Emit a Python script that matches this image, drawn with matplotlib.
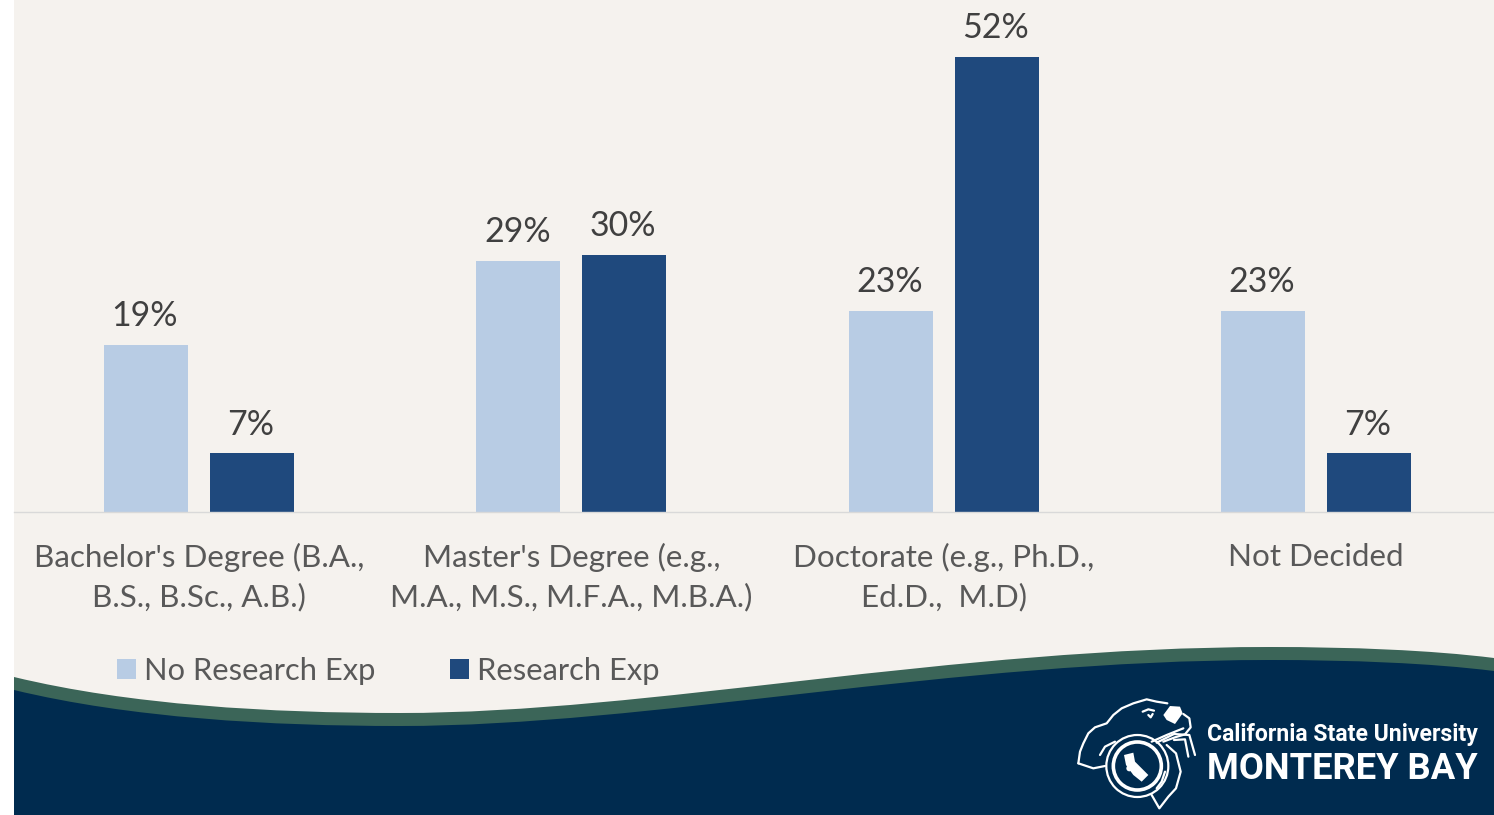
"""Degree plans by research experience, with the CSUMB footer wave and logo."""
import matplotlib
matplotlib.use("Agg")
import matplotlib.pyplot as plt
from matplotlib.patches import Circle, PathPatch, Patch, Polygon, Rectangle
from matplotlib.path import Path
import numpy as np

categories = ["Bachelor's Degree (B.A.,\nB.S., B.Sc., A.B.)",
              "Master's Degree (e.g.,\nM.A., M.S., M.F.A., M.B.A.)",
              "Doctorate (e.g., Ph.D.,\nEd.D.,  M.D)",
              "Not Decided"]
series_names = ["No Research Exp", "Research Exp"]
no_research = [19.1, 28.7, 23.0, 23.0]
research = [6.7, 29.4, 52.0, 6.7]
no_research_labels = ["19%", "29%", "23%", "23%"]
research_labels = ["7%", "30%", "52%", "7%"]

W, H = 1494, 815
BG = "#F5F2EE"
LIGHT = "#B8CCE4"
DARK = "#1F497D"
NAVY = "#002B4F"
GREEN = "#3B6558"
FONT = "Lato"

# footer wave, figure pixels (top edge of the green band, then offset down)
WAVE_TOP = [(14, 677), (130, 705), (270, 713), (400, 713),
            (650, 713), (950, 647), (1270, 647),
            (1350, 647), (1430, 650), (1494, 658)]
BAND = 13

OTTER_LINES = [
    [(85, 370), (90, 335), (100, 310), (115, 280), (135, 262), (170, 250), (190, 225), (215, 205),
     (250, 190), (290, 178), (320, 185), (352, 190)],
    [(85, 370), (130, 385), (165, 378)],
    [(400, 222), (418, 235), (422, 262), (405, 283), (375, 292), (340, 305)],
    [(350, 315), (378, 340), (392, 395), (378, 445), (355, 470), (328, 505), (305, 465)],
    [(150, 345), (165, 320), (195, 305)],
    [(278, 215), (295, 208), (312, 212)],
    [(295, 225), (302, 232), (308, 222)],
    [(305, 305), (350, 285), (400, 265)],
    [(320, 308), (372, 282), (418, 285), (435, 345)],
    [(372, 300), (405, 298), (415, 350)],
    [(345, 395), (335, 425), (320, 445)],
]
OTTER_NOSE = [(340, 225), (360, 198), (390, 200), (398, 220), (375, 252), (350, 240)]
STATE_SHAPE = [(222, 345), (250, 338), (255, 365), (295, 405), (275, 425), (250, 405), (228, 375)]
STATE_ISLAND = (238, 385)


def logo_px(pts):
    return [(1050 + x / 3, 640 + y / 3) for x, y in pts]


def draw_backdrop(bg):
    bg.add_patch(Rectangle((14, 0), W - 14, H, color=BG, lw=0))
    codes = [Path.MOVETO] + [Path.CURVE4] * (len(WAVE_TOP) - 1)
    for shift, color in ((0, GREEN), (BAND, NAVY)):
        verts = [(x, y + shift) for x, y in WAVE_TOP] + [(W, H), (14, H), (14, WAVE_TOP[0][1] + shift)]
        c = codes + [Path.LINETO, Path.LINETO, Path.CLOSEPOLY]
        bg.add_patch(PathPatch(Path(verts, c), fc=color, ec="none"))


def draw_logo(bg):
    for line in OTTER_LINES:
        xs, ys = zip(*logo_px(line))
        bg.plot(xs, ys, color="white", lw=1.6, solid_capstyle="round")
    bg.add_patch(Polygon(logo_px(OTTER_NOSE), fc="white", ec="none"))
    bg.add_patch(Polygon(logo_px(STATE_SHAPE), fc="white", ec="none"))
    bg.add_patch(Circle(logo_px([STATE_ISLAND])[0], 3, fc="white", ec="none"))
    cx, cy = logo_px([(262, 378)])[0]
    bg.add_patch(Circle((cx, cy), 31, fc="none", ec="white", lw=1.6))
    bg.add_patch(Circle((cx, cy), 24, fc="none", ec="white", lw=2.6))
    bg.text(1207, 734, "California State University", color="white", fontsize=16.6,
            fontweight="bold", family="Roboto", va="center", ha="left")
    bg.text(1207, 769, "MONTEREY BAY", color="white", fontsize=26.2,
            fontweight="bold", family="Roboto", va="center", ha="left")


def main():
    fig = plt.figure(figsize=(W / 100, H / 100), dpi=100, facecolor="white")

    bg = fig.add_axes([0, 0, 1, 1], zorder=0)
    bg.set_xlim(0, W)
    bg.set_ylim(H, 0)
    bg.axis("off")
    draw_backdrop(bg)
    draw_logo(bg)

    base_y = 512
    ax = fig.add_axes([14 / W, (H - base_y) / H, (W - 14) / W, base_y / H], zorder=1)
    ax.patch.set_alpha(0)
    pitch = 372.4                     # pixels per category
    x = np.arange(len(categories))
    off, width = 53 / pitch, 84 / pitch
    bars_a = ax.bar(x - off, no_research, width, color=LIGHT)
    bars_b = ax.bar(x + off, research, width, color=DARK)
    ax.set_xlim((14 - 199) / pitch, (W - 199) / pitch)
    ax.set_ylim(0, 58.5)

    for bars, labels in ((bars_a, no_research_labels), (bars_b, research_labels)):
        for b, lab in zip(bars, labels):
            ax.annotate(lab, (b.get_x() + b.get_width() / 2, b.get_height()), xytext=(-0.8, 13.5),
                        textcoords="offset points", ha="center", va="baseline",
                        fontsize=24.5, color="#404040", family=FONT)

    ax.set_xticks(x, categories, fontsize=22.6, color="#595959", family=FONT, linespacing=1.48)
    ax.tick_params(axis="x", length=0, pad=22)
    ax.set_yticks([])
    for name in ("top", "left", "right"):
        ax.spines[name].set_visible(False)
    ax.spines["bottom"].set_color("#D9D9D9")
    ax.spines["bottom"].set_linewidth(1)

    handles = [Patch(color=LIGHT, lw=0), Patch(color=DARK, lw=0)]
    ax.legend(handles, series_names, ncol=2, frameon=False, loc="center left",
              bbox_to_anchor=(117 / W, (H - 671) / H), bbox_transform=fig.transFigure,
              prop={"family": FONT, "size": 22.2}, labelcolor="#595959", borderpad=0,
              handlelength=0.62, handleheight=0.62, handletextpad=0.27, columnspacing=2.4,
              borderaxespad=0)

    fig.savefig("out.png", dpi=100)


if __name__ == "__main__":
    main()
